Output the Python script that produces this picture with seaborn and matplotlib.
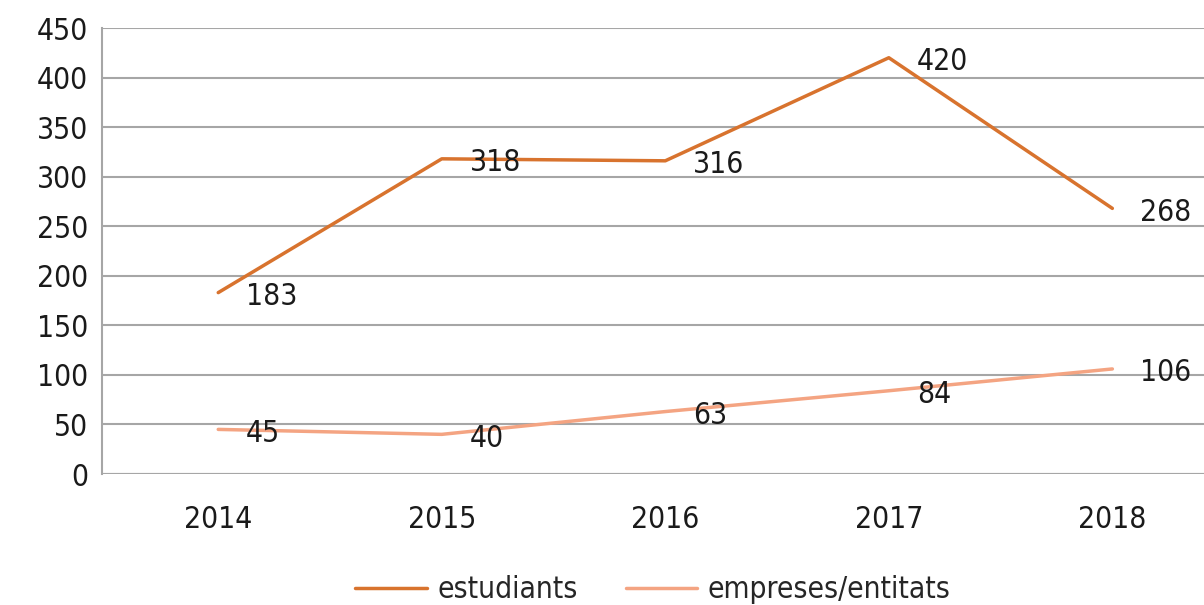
import pandas as pd
import seaborn as sns
import matplotlib.pyplot as plt
from matplotlib.transforms import offset_copy

years = ["2014", "2015", "2016", "2017", "2018"]
estudiants = [183, 318, 316, 420, 268]
empreses = [45, 40, 63, 84, 106]
series_names = ["estudiants", "empreses/entitats"]
colors = ["#D8732E", "#F4A482"]

Data = pd.DataFrame({"any": years * 2,
                     "valor": estudiants + empreses,
                     "serie": [series_names[0]] * 5 + [series_names[1]] * 5})

sns.set_style("white")
plt.rcParams['font.family'] = ['DejaVu Sans']
plt.rcParams['font.stretch'] = 'condensed'
fs = 21.5

fig = plt.figure(figsize=(12.04, 6.05), dpi=100)
ax = fig.add_axes([102 / 1204, 1 - 474 / 605, 1 - 102 / 1204, (474 - 28) / 605])

sns.lineplot(data=Data, x="any", y="valor", hue="serie", palette=colors,
             linewidth=2.5, ax=ax, sort=False, legend=True)

ax.set_xlim(-0.52, 4.41)
ax.set_ylim(0, 450)
ax.set_yticks(range(0, 451, 50))
ax.yaxis.grid(True, color="#A6A6A6", linewidth=1.5)
ax.set_axisbelow(True)
for s in ["top", "right", "bottom"]:
    ax.spines[s].set_visible(False)
ax.spines["left"].set_color("#A6A6A6")
ax.spines["left"].set_linewidth(1.5)
ax.axhline(0, color="#A6A6A6", linewidth=1.5, zorder=0)
ax.tick_params(axis="both", length=0, labelsize=fs, colors="#1a1a1a", pad=10)
ax.tick_params(axis="x", pad=22)
ax.set_xlabel("")
ax.set_ylabel("")

tr = offset_copy(ax.transData, fig=fig, x=28, y=-4, units="dots")
for vals in [estudiants, empreses]:
    for i, v in enumerate(vals):
        ax.text(i, v, str(v), transform=tr, fontsize=fs, color="#1a1a1a",
                ha="left", va="center")

ax.legend(loc="center", bbox_to_anchor=(0.5, -0.26), ncol=2, frameon=False,
          fontsize=fs, handlelength=2.4, columnspacing=1.6, handletextpad=0.35)

fig.savefig("out.png", dpi=100)
